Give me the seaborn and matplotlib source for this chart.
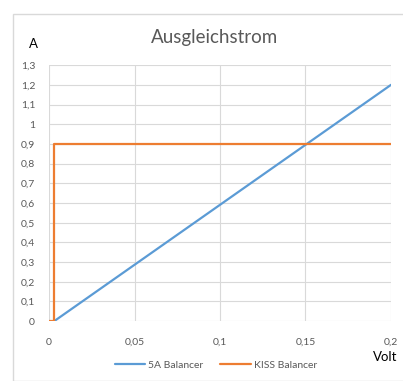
import matplotlib.pyplot as plt
import matplotlib.patches as patches
import matplotlib.ticker as ticker
import seaborn as sns

# data ------------------------------------------
volt_5a = [0.003, 0.2]
amp_5a = [0.0, 1.2]
volt_kiss = [0.0, 0.003, 0.003, 0.2]
amp_kiss = [0.0, 0.0, 0.9, 0.9]
x_ticks = [0, 0.05, 0.1, 0.15, 0.2]
y_ticks = [round(i * 0.1, 1) for i in range(14)]

series = [("5A Balancer", volt_5a, amp_5a, "#5B9BD5"),
          ("KISS Balancer", volt_kiss, amp_kiss, "#ED7D31")]

sns.set_style("white")
plt.rcParams['font.family'] = ['Lato', 'DejaVu Sans']

fig = plt.figure(figsize=(4.03, 3.81), dpi=100)
ax = fig.add_axes([0.1216, 0.157, 0.8486, 0.672])

# chart border like excel
fig.patches.append(patches.Rectangle((13 / 403, 0.0), 1.0, 1 - 14 / 381,
                                     transform=fig.transFigure, fill=False,
                                     edgecolor="#D9D9D9", linewidth=1))

for name, xs, ys, col in series:
    # estimator=None so the vertical step at 0.003 is not averaged away
    sns.lineplot(x=xs, y=ys, estimator=None, sort=False, color=col,
                 linewidth=1.6, ax=ax, label=name)

ax.set_xlim(0, 0.2)
ax.set_ylim(0, 1.3)
ax.set_xticks(x_ticks)
ax.set_yticks(y_ticks)
fmt = ticker.FuncFormatter(lambda v, p: f"{v:g}".replace(".", ","))
ax.xaxis.set_major_formatter(fmt)
ax.yaxis.set_major_formatter(fmt)
ax.grid(True, color="#D9D9D9", linewidth=0.8)
ax.set_axisbelow(True)
for s in ax.spines.values():
    s.set_visible(False)
ax.tick_params(axis="both", length=0, labelsize=7.5, colors="#595959")
ax.tick_params(axis="x", pad=12)
ax.tick_params(axis="y", pad=10)
ax.set_xlabel("")
ax.set_ylabel("")

fig.text(215 / 403, 1 - 38 / 381, "Ausgleichstrom", ha="center", va="center",
         fontsize=13.5, color="#595959")
fig.text(33 / 403, 1 - 44 / 381, "A", ha="center", va="center", fontsize=9.5, color="#000000")
fig.text(385 / 403, 1 - 357 / 381, "Volt", ha="center", va="center", fontsize=9.5, color="#000000")

ax.legend(loc="center", bbox_to_anchor=(216 / 403, 1 - 365 / 381),
          bbox_transform=fig.transFigure, ncol=2, frameon=False, fontsize=7.5,
          labelcolor="#595959", handlelength=2.9, columnspacing=1.6, handletextpad=0.3)

plt.savefig("out.png", dpi=100)
